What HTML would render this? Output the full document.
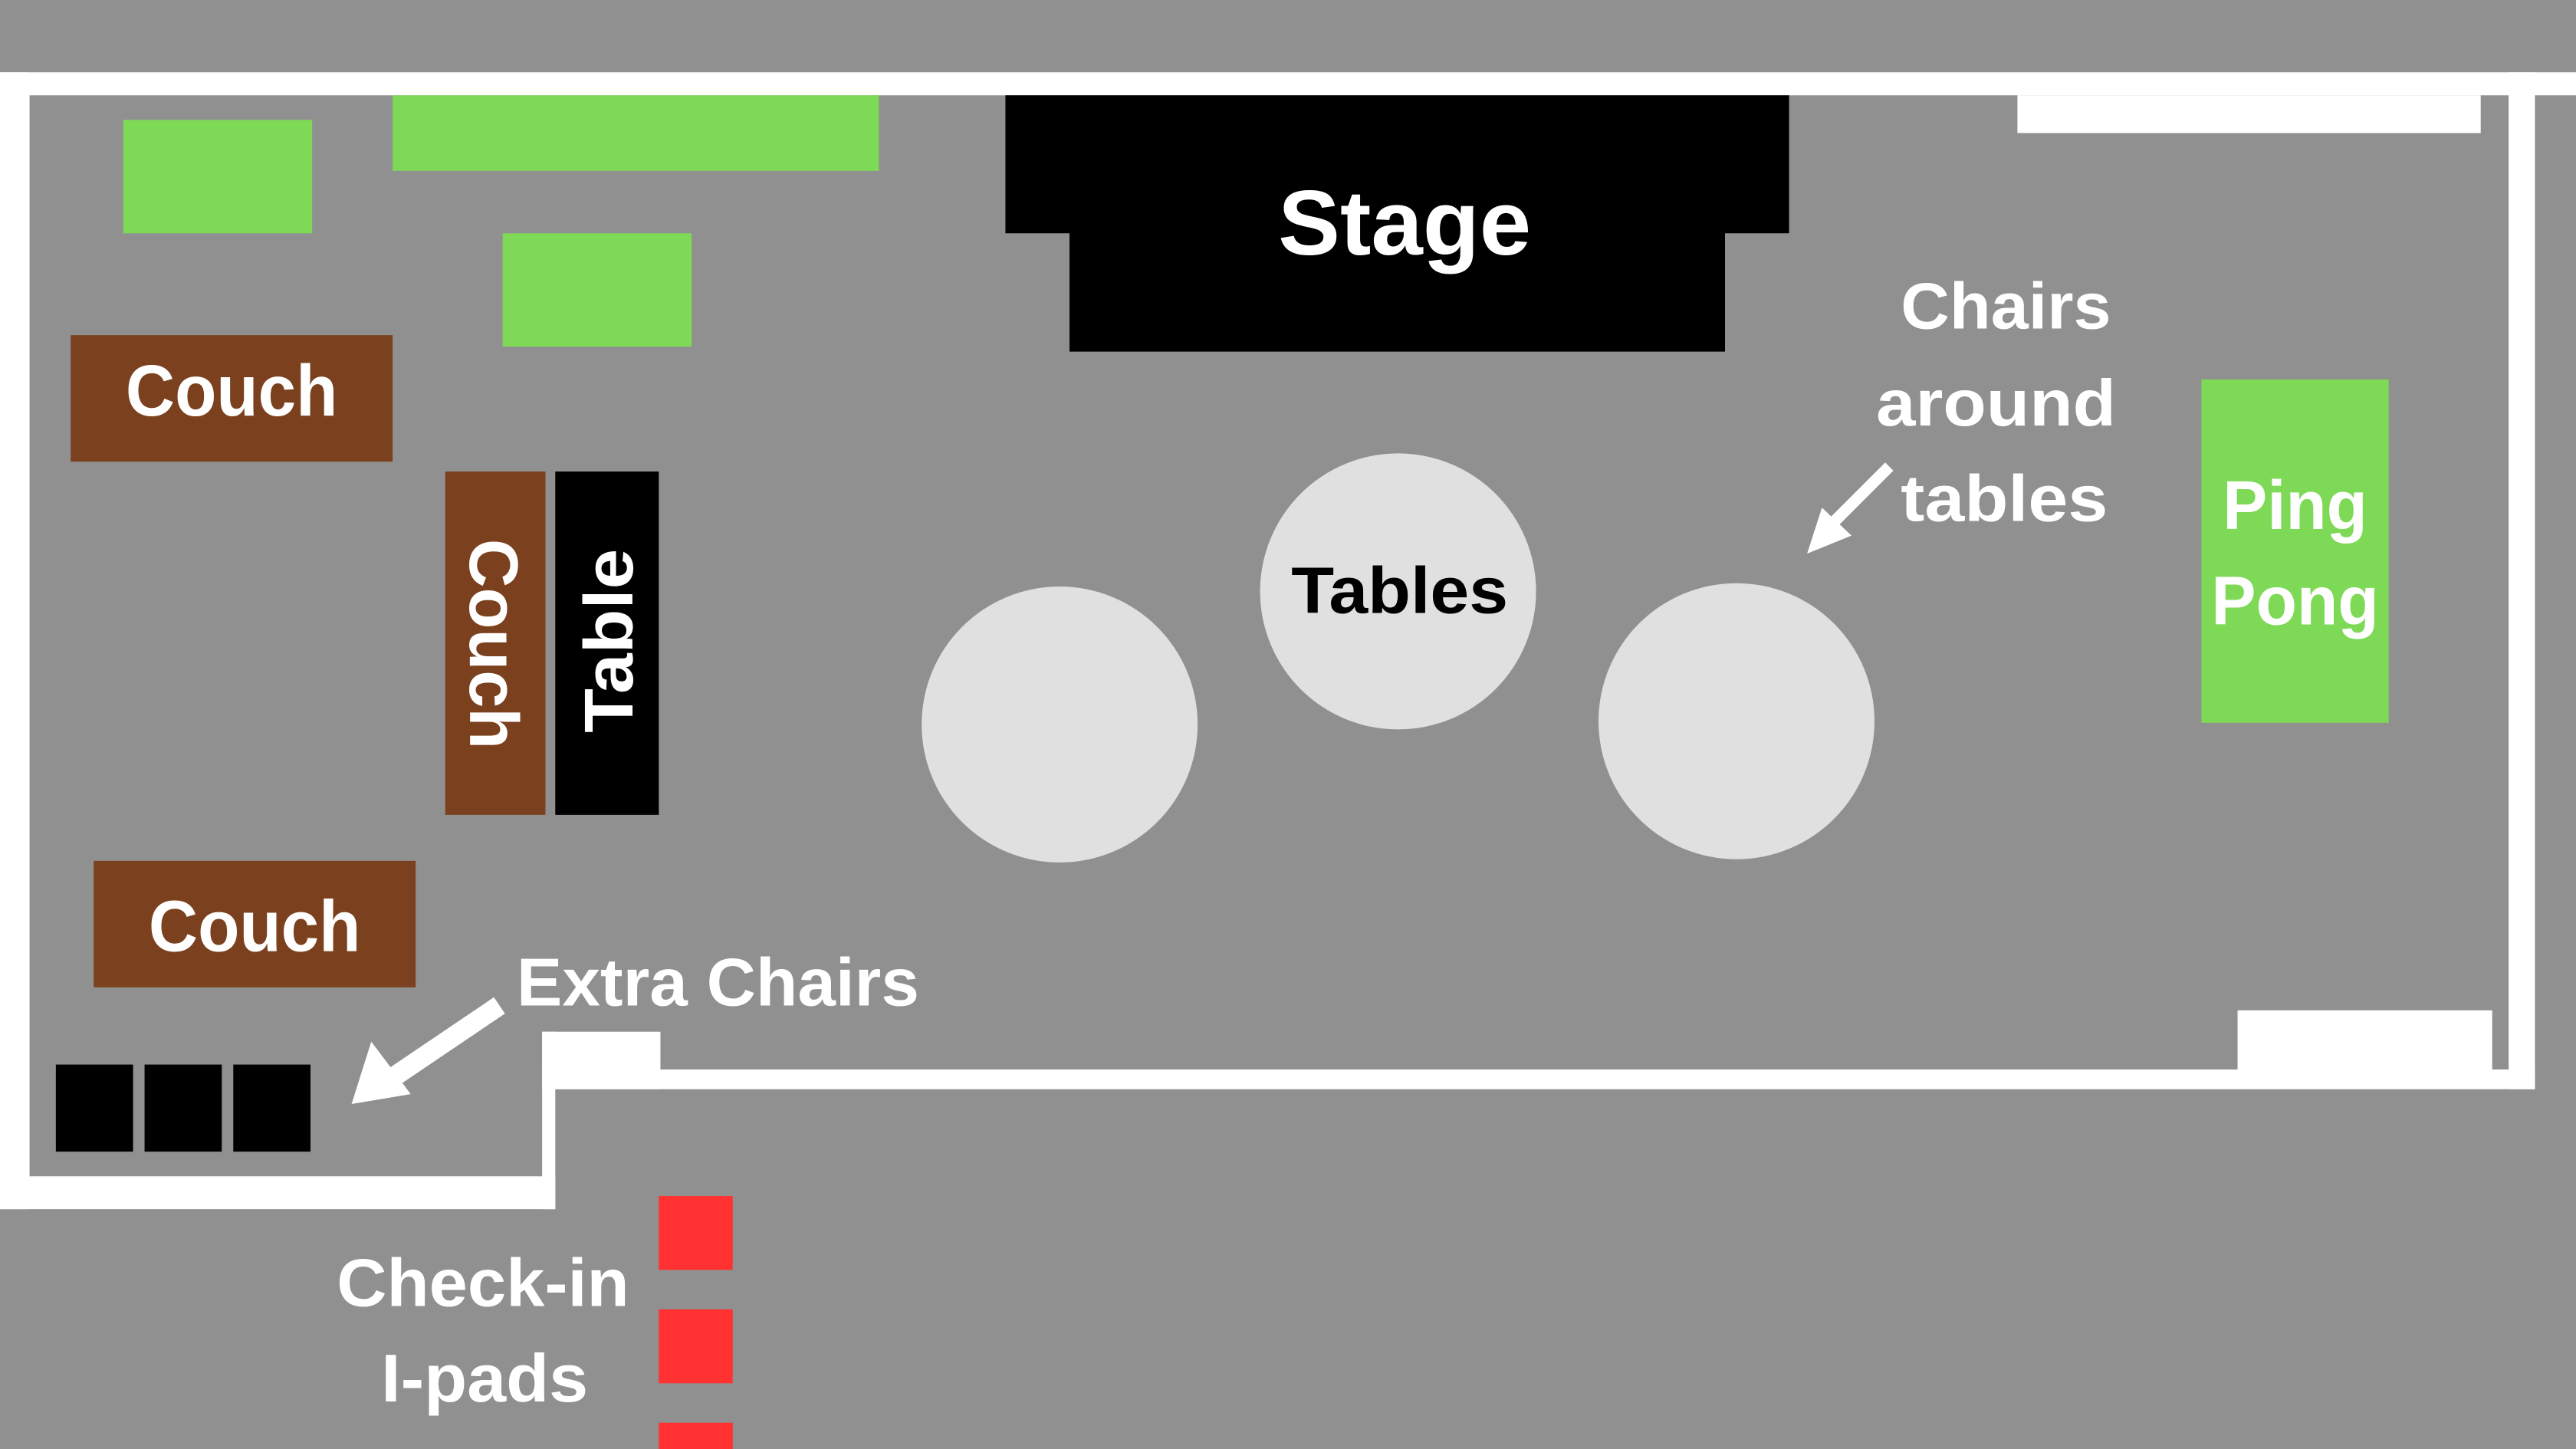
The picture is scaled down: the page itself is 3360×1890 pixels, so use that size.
<!DOCTYPE html>
<html><head><meta charset="utf-8"><style>
html,body{margin:0;padding:0;background:#909090;}
svg{display:block;}
text{font-family:"Liberation Sans",sans-serif;font-weight:bold;}
</style></head><body>
<svg width="3360" height="1890" viewBox="0 0 1568 882" xmlns="http://www.w3.org/2000/svg">
<rect x="0" y="0" width="1568" height="882" fill="#909090"/>
<!-- walls -->
<rect x="0" y="44" width="1568" height="14" fill="#fff"/>
<rect x="0" y="44" width="18" height="692" fill="#fff"/>
<rect x="0" y="716" width="338" height="20" fill="#fff"/>
<rect x="330" y="628" width="8" height="108" fill="#fff"/>
<rect x="330" y="628" width="72" height="35" fill="#fff"/>
<rect x="330" y="651" width="1213" height="12" fill="#fff"/>
<rect x="1527" y="44" width="16" height="619" fill="#fff"/>
<rect x="1228" y="58" width="282" height="23" fill="#fff"/>
<rect x="1362" y="615" width="155" height="40" fill="#fff"/>
<!-- green -->
<rect x="75" y="73" width="115" height="69" fill="#7ed957"/>
<rect x="239" y="58" width="296" height="46" fill="#7ed957"/>
<rect x="306" y="142" width="115" height="69" fill="#7ed957"/>
<rect x="1340" y="231" width="114" height="209" fill="#7ed957"/>
<!-- stage -->
<polygon points="612,58 1089,58 1089,142 1050,142 1050,214 651,214 651,142 612,142" fill="#000"/>
<text x="855" y="155" font-size="56" fill="#fff" text-anchor="middle" textLength="154" lengthAdjust="spacingAndGlyphs">Stage</text>
<!-- couches -->
<rect x="43" y="204" width="196" height="77" fill="#7b411f"/>
<text x="141" y="253" font-size="44" fill="#fff" text-anchor="middle" textLength="129" lengthAdjust="spacingAndGlyphs">Couch</text>
<rect x="57" y="524" width="196" height="77" fill="#7b411f"/>
<text x="155" y="579" font-size="44" fill="#fff" text-anchor="middle" textLength="129" lengthAdjust="spacingAndGlyphs">Couch</text>
<rect x="271" y="287" width="61" height="209" fill="#7b411f"/>
<text transform="translate(286,392) rotate(90)" font-size="42" fill="#fff" text-anchor="middle" textLength="128" lengthAdjust="spacingAndGlyphs">Couch</text>
<rect x="338" y="287" width="63" height="209" fill="#000"/>
<text transform="translate(385,390) rotate(-90)" font-size="42" fill="#fff" text-anchor="middle" textLength="112" lengthAdjust="spacingAndGlyphs">Table</text>
<!-- tables -->
<circle cx="645" cy="441" r="84" fill="#e0e0e0"/>
<circle cx="851" cy="360" r="84" fill="#e0e0e0"/>
<circle cx="1057" cy="439" r="84" fill="#e0e0e0"/>
<text x="852" y="373" font-size="40" fill="#000" text-anchor="middle" textLength="132" lengthAdjust="spacingAndGlyphs">Tables</text>
<!-- chairs text -->
<text x="1221" y="200" font-size="40" fill="#fff" text-anchor="middle" textLength="128" lengthAdjust="spacingAndGlyphs">Chairs</text>
<text x="1215" y="259" font-size="40" fill="#fff" text-anchor="middle" textLength="146" lengthAdjust="spacingAndGlyphs">around</text>
<text x="1220" y="317" font-size="40" fill="#fff" text-anchor="middle" textLength="126" lengthAdjust="spacingAndGlyphs">tables</text>
<line x1="1150" y1="284" x2="1113" y2="321" stroke="#fff" stroke-width="7"/>
<polygon points="1100,337 1109,309 1127,326" fill="#fff"/>
<text x="1397" y="322" font-size="42" fill="#fff" text-anchor="middle" textLength="88" lengthAdjust="spacingAndGlyphs">Ping</text>
<text x="1397" y="380" font-size="42" fill="#fff" text-anchor="middle" textLength="102" lengthAdjust="spacingAndGlyphs">Pong</text>
<!-- extra chairs -->
<rect x="34" y="648" width="47" height="53" fill="#000"/>
<rect x="88" y="648" width="47" height="53" fill="#000"/>
<rect x="142" y="648" width="47" height="53" fill="#000"/>
<line x1="304" y1="612" x2="233" y2="660" stroke="#fff" stroke-width="12"/>
<polygon points="214,672 226,634 250,666" fill="#fff"/>
<text x="437" y="612" font-size="41" fill="#fff" text-anchor="middle" textLength="245" lengthAdjust="spacingAndGlyphs">Extra Chairs</text>
<!-- check-in -->
<rect x="401" y="728" width="45" height="45" fill="#ff3131"/>
<rect x="401" y="797" width="45" height="45" fill="#ff3131"/>
<rect x="401" y="866" width="45" height="20" fill="#ff3131"/>
<text x="294" y="795" font-size="41" fill="#fff" text-anchor="middle" textLength="178" lengthAdjust="spacingAndGlyphs">Check-in</text>
<text x="295" y="853" font-size="41" fill="#fff" text-anchor="middle" textLength="126" lengthAdjust="spacingAndGlyphs">I-pads</text>
</svg>
</body></html>
